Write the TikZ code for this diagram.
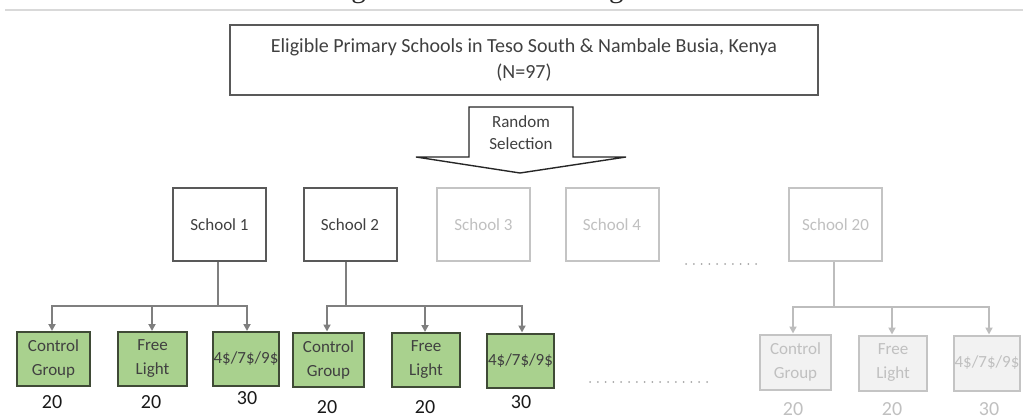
\documentclass[tikz,border=0pt]{standalone}
\usepackage{fontspec}
\setmainfont{Carlito}
\newfontfamily\capfont{Liberation Serif}
\usetikzlibrary{arrows.meta}

\definecolor{txt}{HTML}{404040}
\definecolor{edgedark}{HTML}{595959}
\definecolor{conn}{HTML}{7F7F7F}
\definecolor{greenfill}{HTML}{A9D18E}
\definecolor{greenedge}{HTML}{3F4A36}
\definecolor{fadeedge}{HTML}{C4C4C4}
\definecolor{fadetxt}{HTML}{C0C0C0}
\definecolor{fadefill}{HTML}{F2F2F2}
\definecolor{fadeconn}{HTML}{BDBDBD}
\definecolor{dotgray}{HTML}{A6A6A6}
\definecolor{rulegray}{HTML}{D9D9D9}

\tikzset{
  lbl/.style={font=\fontsize{17}{24}\selectfont, align=center, inner sep=0},
  topbox/.style={lbl, font=\fontsize{20}{26}\selectfont, draw=edgedark,
    line width=2.2, fill=white, text=txt, minimum width=588, minimum height=70},
  school/.style={lbl, draw=edgedark, line width=2, fill=white, text=txt,
    minimum width=93, minimum height=73},
  fadeschool/.style={lbl, draw=fadeedge, line width=2, fill=white, text=fadetxt,
    minimum width=93, minimum height=73},
  armbox/.style={lbl, draw=greenedge, line width=2, fill=greenfill, text=txt,
    minimum height=54},
  fadearm/.style={lbl, draw=fadeedge, line width=2, fill=fadefill, text=fadetxt,
    minimum height=55},
  count/.style={font=\fontsize{20}{24}\selectfont, text=black!90, inner sep=0},
  fadecount/.style={count, text=fadetxt},
  stem/.style={draw=conn, line width=2},
  branch/.style={stem, -{Triangle[length=7pt,width=7pt]}},
  fadestem/.style={draw=fadeconn, line width=2},
  fadebranch/.style={fadestem, -{Triangle[length=7pt,width=7pt]}},
  dotrow/.style={draw=dotgray, line width=2, line cap=round,
    dash pattern=on 0pt off 7.8pt},
}

\begin{document}
\begin{tikzpicture}[x=1pt, y=-1pt]
\useasboundingbox (0,0) rectangle (1023,420);

% caption line at the very top of the page
\begin{scope}
  \clip (0,0) rectangle (1023,420);
  \node[anchor=base west, font=\capfont\fontsize{29}{30}\selectfont, text=black!85,
    inner sep=0] (caption) at (327,-2) {Figure 1: Research Design};
\end{scope}
\draw[rulegray, line width=1.6] (5,10) -- (1023,10);

% population box
\node[topbox] (pop) at (524,60)
  {Eligible Primary Schools in Teso South \& Nambale Busia, Kenya\\(N=97)};

% block arrow for the random draw
\draw[black!85, line width=1.4, fill=white]
  (469,107) -- (573,107) -- (573,157) -- (626,157) -- (520,173)
  -- (416,157) -- (469,157) -- cycle;
\node[lbl, text=txt, font=\fontsize{17}{22}\selectfont] (draw) at (521,133)
  {Random\\Selection};

% selected schools
\node[school] (s1) at (219.5,224.5) {School 1};
\node[school] (s2) at (350,224.5) {School 2};
\node[fadeschool] (s3) at (483.5,224.5) {School 3};
\node[fadeschool] (s4) at (612,224.5) {School 4};
\node[fadeschool] (s20) at (835.5,224.5) {School 20};

% treatment arms of school 1
\node[armbox, minimum width=73] (c1) at (53.5,359) {Control\\Group};
\node[armbox, minimum width=69] (f1) at (152.5,359) {Free\\Light};
\node[armbox, minimum width=66] (p1) at (246,359) {4\$/7\$/9\$};

% treatment arms of school 2
\node[armbox, minimum width=71] (c2) at (328.5,359.5) {Control\\Group};
\node[armbox, minimum width=68] (f2) at (426,360) {Free\\Light};
\node[armbox, minimum width=67] (p2) at (520.5,360.5) {4\$/7\$/9\$};

% treatment arms of school 20
\node[fadearm, minimum width=71] (c3) at (795.5,362) {Control\\Group};
\node[fadearm, minimum width=68] (f3) at (893,363) {Free\\Light};
\node[fadearm, minimum width=66] (p3) at (987,363) {4\$/7\$/9\$};

% branching connectors
\draw[stem] (s1.south -| 218,0) -- (218,306) coordinate (j1);
\draw[branch] (j1) -| (c1.north -| 52,0);
\draw[branch] (j1) -| (f1.north -| 152,0);
\draw[branch] (j1) -| (p1.north -| 247,0);

\draw[stem] (s2.south -| 346,0) -- (346,306) coordinate (j2);
\draw[branch] (j2) -| (c2.north -| 327,0);
\draw[branch] (j2) -| (f2.north -| 425,0);
\draw[branch] (j2) -| (p2.north -| 522,0);

\draw[fadestem] (s20.south -| 834,0) -- (834,307) coordinate (j3);
\draw[fadebranch] (j3) -| (c3.north -| 793,0);
\draw[fadebranch] (j3) -| (f3.north -| 892,0);
\draw[fadebranch] (j3) -| (p3.north -| 989,0);

% omitted schools
\draw[dotrow] (686,264) -- (757,264);
\draw[dotrow] (590,382) -- (712,382);

% sample sizes
\node[count] (nc1) at (52,402) {20};
\node[count] (nf1) at (151,402) {20};
\node[count] (np1) at (247,398) {30};
\node[count] (nc2) at (327,407) {20};
\node[count] (nf2) at (425,407) {20};
\node[count] (np2) at (521,402) {30};
\node[fadecount] (nc3) at (793,409) {20};
\node[fadecount] (nf3) at (892,409) {20};
\node[fadecount] (np3) at (989,409) {30};
\end{tikzpicture}
\end{document}
